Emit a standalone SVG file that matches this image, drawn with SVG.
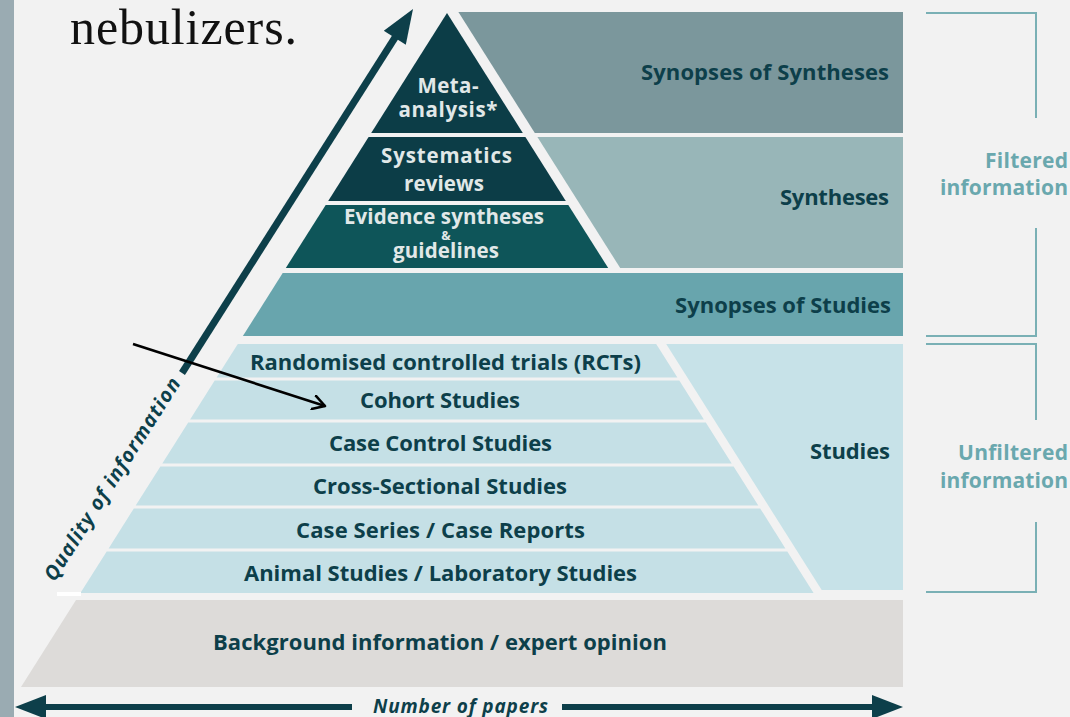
<svg xmlns="http://www.w3.org/2000/svg" width="1070" height="717" viewBox="0 0 1070 717">
<defs>
<style>
.lbl{font-family:"Open Sans","Noto Sans","Liberation Sans",sans-serif;font-weight:700;font-size:22px;fill:#0d3f4a}
.inv{fill:#e1e8e8;font-size:20.5px}
.side{font-family:"Open Sans","Noto Sans","Liberation Sans",sans-serif;font-weight:700;font-size:21px;fill:#6aa8ae}
.brk{fill:none;stroke:#7ab0b5;stroke-width:2}
.band{fill:#c5e0e6}
</style>
<marker id="open" markerWidth="16" markerHeight="16" refX="13" refY="8" orient="auto" markerUnits="userSpaceOnUse">
<path d="M1,1 L13,8 L1,15" fill="none" stroke="#000" stroke-width="2.6" stroke-linecap="round" stroke-linejoin="round"/>
</marker>
</defs>
<rect x="0" y="0" width="1070" height="717" fill="#f2f2f2"/>
<rect x="0" y="0" width="14" height="717" fill="#9aabb2"/>
<text x="70" y="44" font-family="Liberation Serif,serif" font-size="50" fill="#111" textLength="227">nebulizers.</text>

<g id="synopses-of-syntheses">
<polygon points="458.4,12 903,12 903,133 534.8,133" fill="#7b979c"/>
<text class="lbl" x="889" y="80" text-anchor="end" textLength="248">Synopses of Syntheses</text>
</g>
<g id="syntheses">
<polygon points="537.4,137 903,137 903,268 620.2,268" fill="#98b6b8"/>
<text class="lbl" x="889" y="205" text-anchor="end" textLength="109">Syntheses</text>
</g>
<g id="meta-analysis">
<polygon points="447,13 522.8,133 371.2,133" fill="#0c3d47"/>
<text class="lbl inv" x="448" y="93" text-anchor="middle" textLength="61">Meta-</text>
<text class="lbl inv" x="448" y="117" text-anchor="middle" textLength="99">analysis*</text>
</g>
<g id="systematic-reviews">
<polygon points="368.6,137 525.4,137 565.8,201 328.2,201" fill="#0c3d47"/>
<text class="lbl inv" x="446.5" y="163" text-anchor="middle" textLength="131">Systematics</text>
<text class="lbl inv" x="444" y="191" text-anchor="middle" textLength="80">reviews</text>
</g>
<g id="evidence-syntheses">
<polygon points="325.7,205 568.3,205 608.2,268 285.8,268" fill="#0e5559"/>
<text class="lbl inv" x="444" y="224" text-anchor="middle" textLength="200">Evidence syntheses</text>
<text class="lbl inv" x="446" y="240" text-anchor="middle" style="font-size:12.5px">&amp;</text>
<text class="lbl inv" x="446" y="258" text-anchor="middle" textLength="106">guidelines</text>
</g>
<g id="synopses-of-studies">
<polygon points="282.7,273 903,273 903,336 242.9,336" fill="#68a5ad"/>
<text class="lbl" x="891" y="313" text-anchor="end" textLength="216">Synopses of Studies</text>
</g>
<g id="studies">
<polygon points="666.2,344 903,344 903,590 821.7,590" fill="#c7e2e8"/>
<text class="lbl" x="890" y="459" text-anchor="end" textLength="80">Studies</text>
</g>
<g id="rct">
<polygon points="237.8,344 656.2,344 677.4,377.5 216.6,377.5" class="band"/>
<text class="lbl" x="445.5" y="370" text-anchor="middle" textLength="391">Randomised controlled trials (RCTs)</text>
</g>
<g id="cohort">
<polygon points="214.7,380.5 679.3,380.5 703.9,419.5 190.1,419.5" class="band"/>
<text class="lbl" x="440" y="408" text-anchor="middle" textLength="160">Cohort Studies</text>
</g>
<g id="case-control">
<polygon points="188.2,422.5 705.8,422.5 731.7,463.5 162.3,463.5" class="band"/>
<text class="lbl" x="440.5" y="451" text-anchor="middle" textLength="223">Case Control Studies</text>
</g>
<g id="cross-sectional">
<polygon points="160.4,466.5 733.6,466.5 758.3,505.5 135.7,505.5" class="band"/>
<text class="lbl" x="440" y="494" text-anchor="middle" textLength="254">Cross-Sectional Studies</text>
</g>
<g id="case-series">
<polygon points="133.8,508.5 760.2,508.5 785.4,548.5 108.6,548.5" class="band"/>
<text class="lbl" x="440.5" y="538" text-anchor="middle" textLength="289">Case Series / Case Reports</text>
</g>
<g id="animal-studies">
<polygon points="106.7,551.5 787.3,551.5 813.6,593 80.4,593" class="band"/>
<text class="lbl" x="440.5" y="581" text-anchor="middle" textLength="393">Animal Studies / Laboratory Studies</text>
</g>
<rect x="57" y="592" width="24" height="4" fill="#ffffff"/>
<g id="background-information">
<polygon points="76,600 903,600 903,687 21,687" fill="#dddbd9"/>
<text class="lbl" x="440" y="650" text-anchor="middle" font-size="22.5" textLength="454">Background information / expert opinion</text>
</g>

<g id="filtered-information">
<polyline class="brk" points="926,13 1036,13 1036,118"/>
<polyline class="brk" points="1036,228 1036,336 926,336"/>
<text class="side" x="1068" y="168" text-anchor="end" textLength="83">Filtered</text>
<text class="side" x="1068" y="195" text-anchor="end" textLength="128">information</text>
</g>
<g id="unfiltered-information">
<polyline class="brk" points="926,344 1036,344 1036,420"/>
<polyline class="brk" points="1036,522 1036,592 926,592"/>
<text class="side" x="1068" y="460" text-anchor="end" textLength="110">Unfiltered</text>
<text class="side" x="1068" y="488" text-anchor="end" textLength="128">information</text>
</g>

<g id="connectors">
<g id="quality-arrow">
<line x1="182" y1="373" x2="396" y2="36" stroke="#0d3f4a" stroke-width="7"/>
<polygon points="413,9 405.8,44.7 383.8,30.7" fill="#0d3f4a"/>
<text transform="translate(112,479) rotate(-57.6)" x="0" y="7" text-anchor="middle" font-family="Open Sans,Noto Sans,Liberation Sans,sans-serif" font-weight="700" font-style="italic" font-size="20" fill="#0d3f4a" textLength="236">Quality of information</text>
</g>
<g id="papers-arrow">
<line x1="40" y1="707" x2="352" y2="707" stroke="#0d3f4a" stroke-width="6"/>
<line x1="562" y1="707" x2="878" y2="707" stroke="#0d3f4a" stroke-width="6"/>
<polygon points="15,707 46,695 46,719" fill="#0d3f4a"/>
<polygon points="903,707 872,695 872,719" fill="#0d3f4a"/>
<text x="460.5" y="713" text-anchor="middle" font-family="Open Sans,Noto Sans,Liberation Sans,sans-serif" font-weight="700" font-style="italic" font-size="19" fill="#0d3f4a" textLength="175">Number of papers</text>
</g>
<line id="pointer-arrow" x1="133" y1="344" x2="325" y2="406" stroke="#000" stroke-width="2.6" marker-end="url(#open)"/>
</g>
</svg>
